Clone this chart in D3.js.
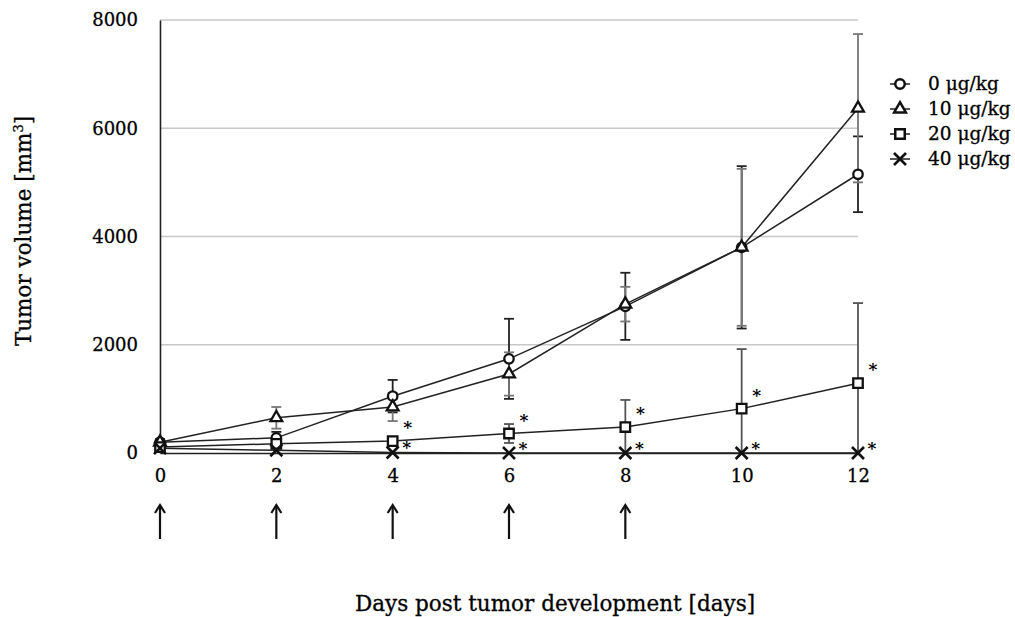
<!DOCTYPE html>
<html>
<head>
<meta charset="utf-8">
<script src="https://cdn.jsdelivr.net/npm/d3@7"></script>
<style>
  body { margin: 0; background: #fff; }
  text { font-family: "DejaVu Serif", "Liberation Serif", serif; fill: #000; }
</style>
</head>
<body>
<div id="myDiv"></div>
<script>
// Data
var days = [0, 2, 4, 6, 8, 10, 12];
var yTicks = [0, 2000, 4000, 6000, 8000];
var doseLabels = ["0 \u03bcg/kg", "10 \u03bcg/kg", "20 \u03bcg/kg", "40 \u03bcg/kg"];

var vol0 = [200, 280, 1050, 1740, 2710, 3800, 5150];
var err0 = [60, 110, 300, 740, 620, 1500, 700];
var vol10 = [200, 650, 850, 1460, 2750, 3800, 6370];
var err10 = [50, 200, 260, 400, 320, 1450, 1370];
var vol20 = [110, 170, 220, 360, 480, 820, 1290];
var err20 = [40, 80, 60, 175, 500, 1100, 1480];
var vol40 = [90, 50, 10, 0, 0, 0, 0];
var err40 = [0, 0, 0, 0, 0, 0, 0];

var sigDays = [4, 6, 8, 10, 12];      // * marks for 20 and 40 ug/kg
var injectionDays = [0, 2, 4, 6, 8];  // arrows under the axis

var width = 1015, height = 617;
var margin = { top: 20, left: 160, right: 157, bottom: 164 };

var svg = d3.select("#myDiv")
    .append("svg")
    .attr("width", width)
    .attr("height", height);

var x = d3.scaleLinear().domain([0, 12]).range([margin.left, width - margin.right]);
var y = d3.scaleLinear().domain([0, 8000]).range([height - margin.bottom, margin.top]);

// gridlines
svg.append("g")
    .selectAll("line")
    .data(yTicks.filter(function (d) { return d > 0; }))
    .enter().append("line")
    .attr("x1", x(0)).attr("x2", x(12))
    .attr("y1", function (d) { return y(d); })
    .attr("y2", function (d) { return y(d); })
    .attr("stroke", "#c8c8c8")
    .attr("stroke-width", 1.3);

// y axis
var yAxis = svg.append("g")
    .attr("transform", "translate(" + x(0) + ",0)")
    .call(d3.axisLeft(y).tickValues(yTicks).tickSize(0).tickPadding(22).tickFormat(d3.format("d")));
yAxis.select(".domain").attr("stroke", "#222").attr("stroke-width", 1.6);
yAxis.selectAll("text").attr("font-size", "18px").attr("font-family", "DejaVu Serif")
    .attr("fill", "#000").attr("stroke", "#000").attr("stroke-width", 0.3);

// x axis
var xAxis = svg.append("g")
    .attr("transform", "translate(0," + y(0) + ")")
    .call(d3.axisBottom(x).tickValues(days).tickSize(0).tickPadding(16));
xAxis.select(".domain").attr("stroke", "#222").attr("stroke-width", 1.6);
xAxis.selectAll("text").attr("font-size", "18px").attr("font-family", "DejaVu Serif")
    .attr("fill", "#000").attr("stroke", "#000").attr("stroke-width", 0.3);

// axis titles
svg.append("text")
    .attr("transform", "translate(31," + 231 + ") rotate(-90)")
    .attr("text-anchor", "middle")
    .attr("font-size", "21.5px")
    .attr("stroke", "#000").attr("stroke-width", 0.3)
    .html("Tumor volume [mm<tspan dy='-8' font-size='13px'>3</tspan><tspan dy='8'>]</tspan>");

svg.append("text")
    .attr("x", 555)
    .attr("y", 611)
    .attr("text-anchor", "middle")
    .attr("font-size", "21.5px")
    .attr("stroke", "#000").attr("stroke-width", 0.3)
    .text("Days post tumor development [days]");

var series = [
    { name: doseLabels[0], vals: vol0, errs: err0, shape: "circle", barColor: "#222" },
    { name: doseLabels[1], vals: vol10, errs: err10, shape: "triangle", barColor: "#777" },
    { name: doseLabels[2], vals: vol20, errs: err20, shape: "square", barColor: "#555" },
    { name: doseLabels[3], vals: vol40, errs: err40, shape: "cross", barColor: "#222" }
];

function markerPath(shape) {
    if (shape === "circle") return d3.symbol(d3.symbolCircle, 70)();
    if (shape === "triangle") return d3.symbol(d3.symbolTriangle, 60)();
    if (shape === "square") return d3.symbol(d3.symbolSquare, 90)();
    return "M-6,-6L6,6M-6,6L6,-6";
}

var line = d3.line()
    .x(function (d) { return x(d.day); })
    .y(function (d) { return y(d.v); });

// error bars
series.forEach(function (s) {
    var pts = days.map(function (d, i) { return { day: d, v: s.vals[i], e: s.errs[i] }; })
        .filter(function (p) { return p.e > 0; });
    var g = svg.append("g").attr("stroke", s.barColor).attr("stroke-width", 1.8);
    pts.forEach(function (p) {
        var top = p.v + p.e;
        var bot = Math.max(0, p.v - p.e);
        g.append("line").attr("x1", x(p.day)).attr("x2", x(p.day))
            .attr("y1", y(top)).attr("y2", y(bot));
        g.append("line").attr("x1", x(p.day) - 5).attr("x2", x(p.day) + 5)
            .attr("y1", y(top)).attr("y2", y(top));
        if (p.v - p.e > 0) {
            g.append("line").attr("x1", x(p.day) - 5).attr("x2", x(p.day) + 5)
                .attr("y1", y(bot)).attr("y2", y(bot));
        }
    });
});

// lines
series.forEach(function (s) {
    var pts = days.map(function (d, i) { return { day: d, v: s.vals[i] }; });
    svg.append("path")
        .datum(pts)
        .attr("d", line)
        .attr("fill", "none")
        .attr("stroke", "#222")
        .attr("stroke-width", 1.5);
});

// markers
series.forEach(function (s) {
    svg.append("g")
        .selectAll("path")
        .data(days.map(function (d, i) { return { day: d, v: s.vals[i] }; }))
        .enter().append("path")
        .attr("transform", function (d) { return "translate(" + x(d.day) + "," + y(d.v) + ")"; })
        .attr("d", markerPath(s.shape))
        .attr("fill", s.shape === "cross" ? "none" : "#fff")
        .attr("stroke", "#111")
        .attr("stroke-width", s.shape === "cross" ? 2.6 : 2.3);
});

// significance stars
sigDays.forEach(function (d) {
    var i = days.indexOf(d);
    svg.append("text")
        .attr("x", x(d) + 15).attr("y", y(vol20[i]) - 8)
        .attr("text-anchor", "middle")
        .attr("font-family", "DejaVu Sans")
        .attr("font-size", "17px").attr("font-weight", "bold")
        .text("*");
    svg.append("text")
        .attr("x", x(d) + 14).attr("y", y(vol40[i]) + 1)
        .attr("text-anchor", "middle")
        .attr("font-family", "DejaVu Sans")
        .attr("font-size", "17px").attr("font-weight", "bold")
        .text("*");
});

// injection arrows
var arrows = svg.append("g").attr("stroke", "#111").attr("stroke-width", 2.2).attr("fill", "none");
injectionDays.forEach(function (d) {
    var cx = x(d);
    arrows.append("line").attr("x1", cx).attr("x2", cx).attr("y1", 539).attr("y2", 506);
    arrows.append("path").attr("d", "M" + (cx - 5) + ",513L" + cx + ",505L" + (cx + 5) + ",513");
});

// legend
var legend = svg.append("g").attr("transform", "translate(900,84)");
var items = legend.selectAll("g")
    .data(series)
    .enter().append("g")
    .attr("transform", function (d, i) { return "translate(0," + (i * 25) + ")"; });
items.append("line")
    .attr("x1", -10).attr("x2", 10)
    .attr("stroke", "#222").attr("stroke-width", 1.5);
items.append("path")
    .attr("d", function (d) { return markerPath(d.shape); })
    .attr("fill", function (d) { return d.shape === "cross" ? "none" : "#fff"; })
    .attr("stroke", "#111")
    .attr("stroke-width", function (d) { return d.shape === "cross" ? 2.6 : 2.5; });
items.append("text")
    .attr("x", 28).attr("y", 6)
    .attr("font-size", "18.5px")
    .attr("stroke", "#000").attr("stroke-width", 0.3)
    .text(function (d) { return d.name; });
</script>
</body>
</html>
